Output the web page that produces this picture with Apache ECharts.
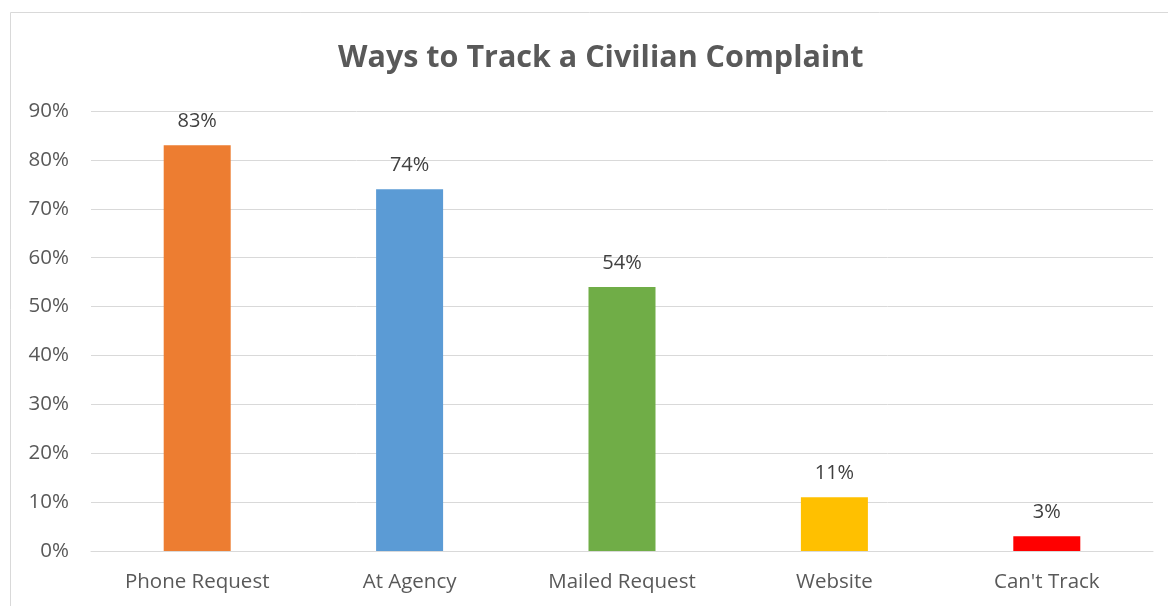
<!DOCTYPE html>
<html>
<head>
<meta charset="utf-8">
<script src="https://cdn.jsdelivr.net/npm/echarts@6/dist/echarts.min.js"></script>
<style>
  html, body { margin: 0; padding: 0; background: #fff; }
  #chart { width: 1168px; height: 606px; }
</style>
</head>
<body>
<div id="chart"></div>
<script>
const categories = ["Phone Request", "At Agency", "Mailed Request", "Website", "Can't Track"];
const values = [83, 74, 54, 11, 3];
const barColors = ["#ED7D31", "#5B9BD5", "#70AD47", "#FFC000", "#FF0000"];

const myChart = echarts.init(document.getElementById("chart"));

const option = {
  animation: false,
  title: {
    text: "Ways to Track a Civilian Complaint",
    left: 333,
    top: 38,
    textStyle: {
      fontFamily: "Open Sans",
      fontWeight: "bold",
      fontSize: 30.5,
      color: "#595959",
    },
  },
  graphic: [
    {
      type: "rect",
      shape: { x: 10.5, y: 12.5, width: 1200, height: 700 },
      style: { fill: "none", stroke: "#d9d9d9", lineWidth: 1 },
      silent: true,
    },
  ],
  grid: {
    left: 91,
    right: 15,
    top: 111,
    bottom: 55,
  },
  xAxis: {
    type: "category",
    data: categories,
    axisTick: { show: false },
    axisLine: { show: true, lineStyle: { color: "#d9d9d9", width: 1 } },
    axisLabel: {
      color: "#595959",
      fontSize: 20.5,
      fontFamily: "Open Sans",
      margin: 21,
    },
  },
  yAxis: {
    type: "value",
    min: 0,
    max: 90,
    interval: 10,
    axisLine: { show: false },
    axisTick: { show: false },
    axisLabel: {
      formatter: "{value}%",
      color: "#595959",
      fontSize: 20.5,
      fontFamily: "Open Sans",
      margin: 22,
    },
    splitLine: { lineStyle: { color: "#d9d9d9", width: 1 } },
  },
  series: [
    {
      type: "bar",
      barWidth: 67,
      data: values.map((v, i) => ({ value: v, itemStyle: { color: barColors[i] } })),
      label: {
        show: true,
        position: "top",
        distance: 14,
        formatter: "{c}%",
        color: "#404040",
        fontSize: 20,
        fontFamily: "Open Sans",
      },
    },
  ],
};

myChart.setOption(option);
window.addEventListener("resize", () => myChart.resize());
</script>
</body>
</html>
